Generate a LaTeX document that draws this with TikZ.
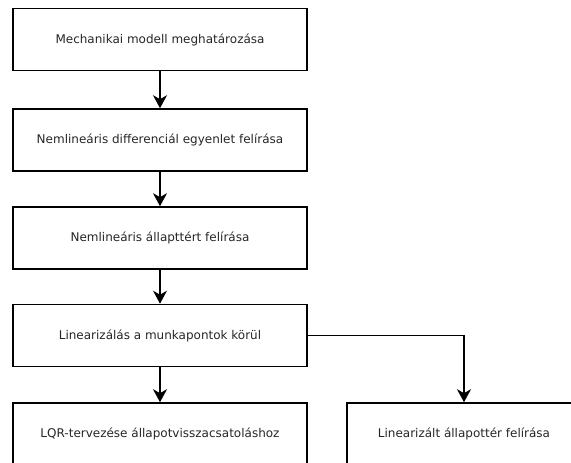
\documentclass[tikz,border=0pt]{standalone}
\usepackage{fontspec}
\setmainfont{DejaVu Sans}
\usetikzlibrary{arrows.meta}

\tikzset{
  lepes/.style={draw, line width=1.6pt, rectangle, minimum width=294pt, minimum height=62pt,
    inner sep=0pt, font=\fontsize{12}{14}\selectfont, text=black!85},
  nyil/.style={line width=1.6pt, -{Stealth[length=13pt,width=14pt,inset=4pt]}}
}

\begin{document}
\begin{tikzpicture}[x=1pt,y=-1pt]
\clip (0,0) rectangle (571,463);
\useasboundingbox (0,0) rectangle (571,463);

% Steps
\node[lepes] (mech) at (160,39.5) {Mechanikai modell meghatározása};
\node[lepes] (nldiff) at (160,140) {Nemlineáris differenciál egyenlet felírása};
\node[lepes] (nlall) at (160,238) {Nemlineáris állapttért felírása};
\node[lepes] (lin) at (160,335.5) {Linearizálás a munkapontok körül};
\node[lepes] (lqr) at (160,434) {LQR-tervezése állapotvisszacsatoláshoz};
\node[lepes, minimum width=234pt] (linall) at (464,434) {Linearizált állapottér felírása};

% Arrows
\draw[nyil] (mech) -- (nldiff);
\draw[nyil] (nldiff) -- (nlall);
\draw[nyil] (nlall) -- (lin);
\draw[nyil] (lin) -- (lqr);
\draw[nyil] (lin.east) -| (linall.north);

\end{tikzpicture}
\end{document}
